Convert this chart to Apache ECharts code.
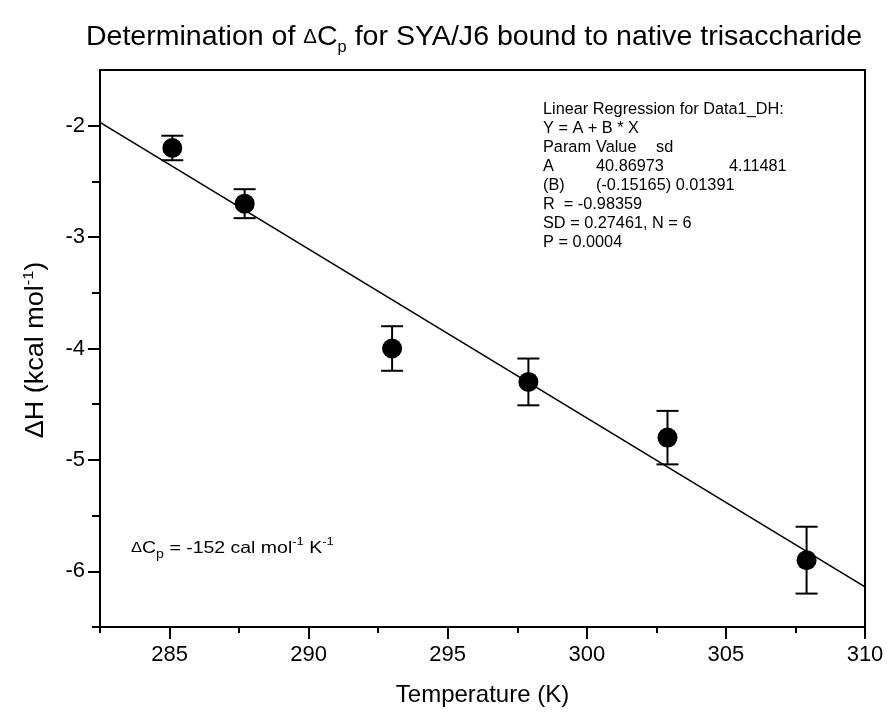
<!DOCTYPE html>
<html><head><meta charset="utf-8">
<script src="https://cdn.jsdelivr.net/npm/echarts@6/dist/echarts.min.js"></script>
<style>html,body{margin:0;padding:0;background:#fff}#c{width:887px;height:715px}</style>
</head><body><div id="c"></div>
<script>
// ---- data ----
const temperatures = [285.1, 287.7, 293.0, 297.9, 302.9, 307.9];
const deltaH = [-2.2, -2.7, -4.0, -4.3, -4.8, -5.9];
const deltaHErr = [0.11, 0.13, 0.2, 0.21, 0.24, 0.3];
const fitLineX = [282.5, 310];
const fitLineY = [-1.97, -6.14];
const xMajorTicks = [285, 290, 295, 300, 305, 310];
const xMinorTicks = [282.5, 287.5, 292.5, 297.5, 302.5, 307.5];
const yMajorTicks = [-6, -5, -4, -3, -2];
const yMinorTicks = [-6.5, -5.5, -4.5, -3.5, -2.5];
const regressionLines = [
  ['Linear Regression for Data1_DH:'],
  ['Y = A + B * X'],
  ['Param', 'Value', 'sd'],
  ['A', '40.86973', '4.11481'],
  ['(B)', '(-0.15165) 0.01391'],
  ['R  = -0.98359'],
  ['SD = 0.27461, N = 6'],
  ['P = 0.0004']
];

const FONT = '"Liberation Sans", Arial, sans-serif';
const chart = echarts.init(document.getElementById('c'), null, {renderer: 'canvas'});

const points = temperatures.map((t, i) => [t, deltaH[i]]);
const errData = temperatures.map((t, i) => [t, deltaH[i], deltaHErr[i]]);
const fitData = fitLineX.map((x, i) => [x, fitLineY[i]]);

// layout of regression text block
const colX = [
  [543], [543], [543, 596, 656], [543, 596, 729], [543, 596], [543], [543], [543]
];
const regGraphics = [];
regressionLines.forEach((parts, li) => {
  parts.forEach((txt, ci) => {
    regGraphics.push({
      type: 'text', x: colX[li][ci], y: 110 + li * 19,
      style: {text: txt, fill: '#000', font: '16.3px ' + FONT, textVerticalAlign: 'middle', verticalAlign: 'middle'}
    });
  });
});

const option = {
  backgroundColor: '#fff',
  animation: false,
  grid: {left: 100, right: 22, top: 70, bottom: 88, show: true, borderColor: '#000', borderWidth: 2, containLabel: false},
  xAxis: [{
    type: 'value', min: 282.5, max: 310,
    name: 'Temperature (K)', nameLocation: 'middle', nameGap: 56,
    nameTextStyle: {fontFamily: FONT, fontSize: 24, color: '#000'},
    axisLine: {show: true, onZero: false, lineStyle: {color: '#000', width: 2}},
    axisTick: {show: true, customValues: xMajorTicks, length: 12, lineStyle: {color: '#000', width: 2}},
    axisLabel: {customValues: xMajorTicks, fontFamily: FONT, fontSize: 22, color: '#000', margin: 17},
    splitLine: {show: false}
  }, {
    type: 'value', min: 282.5, max: 310, position: 'bottom',
    axisLine: {show: false},
    axisTick: {show: true, customValues: xMinorTicks, length: 6, lineStyle: {color: '#000', width: 2}},
    axisLabel: {show: false}, splitLine: {show: false}
  }],
  yAxis: [{
    type: 'value', min: -6.5, max: -1.5,
    axisLine: {show: true, onZero: false, lineStyle: {color: '#000', width: 2}},
    axisTick: {show: true, customValues: yMajorTicks, length: 12, lineStyle: {color: '#000', width: 2}},
    axisLabel: {customValues: yMajorTicks, fontFamily: FONT, fontSize: 22, color: '#000', margin: 15},
    splitLine: {show: false}
  }, {
    type: 'value', min: -6.5, max: -1.5, position: 'left',
    axisLine: {show: false},
    axisTick: {show: true, customValues: yMinorTicks, length: 8, lineStyle: {color: '#000', width: 2}},
    axisLabel: {show: false}, splitLine: {show: false}
  }],
  series: [{
    type: 'line', data: fitData, showSymbol: false, symbol: 'none',
    lineStyle: {color: '#000', width: 1.6}, z: 2
  }, {
    type: 'custom', data: errData, z: 3,
    renderItem: function (params, api) {
      const x = api.value(0), y = api.value(1), e = api.value(2);
      const top = api.coord([x, y + e]);
      const bot = api.coord([x, y - e]);
      const hw = 11;
      const st = {stroke: '#000', lineWidth: 2};
      return {type: 'group', children: [
        {type: 'line', shape: {x1: top[0], y1: top[1], x2: bot[0], y2: bot[1]}, style: st},
        {type: 'line', shape: {x1: top[0] - hw, y1: top[1], x2: top[0] + hw, y2: top[1]}, style: st},
        {type: 'line', shape: {x1: bot[0] - hw, y1: bot[1], x2: bot[0] + hw, y2: bot[1]}, style: st}
      ]};
    }
  }, {
    type: 'scatter', data: points, symbol: 'circle', symbolSize: 20,
    itemStyle: {color: '#000', opacity: 1}, z: 4
  }],
  graphic: [{
    type: 'text', x: 474, y: 37, scaleX: 1.02,
    style: {
      text: 'Determination of {d|Δ}C{sub|p} for SYA/J6 bound to native trisaccharide',
      fill: '#000', font: '28px ' + FONT, textAlign: 'center', textVerticalAlign: 'middle', verticalAlign: 'middle',
      rich: {
        d: {fontFamily: FONT, fontSize: 20, color: '#000'},
        sub: {fontFamily: FONT, fontSize: 16, color: '#000', padding: [22, 0, 0, 0]}
      }
    }
  }, {
    type: 'text', x: 36, y: 350, rotation: Math.PI / 2, scaleX: 1.08,
    style: {
      text: 'ΔH (kcal mol{sup|-1})',
      fill: '#000', font: '25px ' + FONT, textAlign: 'center', textVerticalAlign: 'middle', verticalAlign: 'middle',
      rich: {sup: {fontFamily: FONT, fontSize: 15, color: '#000', padding: [0, 0, 15, 0]}}
    }
  }, {
    type: 'text', x: 131, y: 548, scaleX: 1.18,
    style: {
      text: '{d|Δ}C{sub|p} = -152 cal mol{sup|-1} K{sup|-1}',
      fill: '#000', font: '16.5px ' + FONT, textVerticalAlign: 'middle', verticalAlign: 'middle',
      rich: {
        d: {fontFamily: FONT, fontSize: 14, color: '#000'},
        sub: {fontFamily: FONT, fontSize: 12, color: '#000', padding: [14, 0, 0, 0]},
        sup: {fontFamily: FONT, fontSize: 11, color: '#000', padding: [0, 0, 12, 0]}
      }
    }
  }].concat(regGraphics)
};
chart.setOption(option);
</script></body></html>
